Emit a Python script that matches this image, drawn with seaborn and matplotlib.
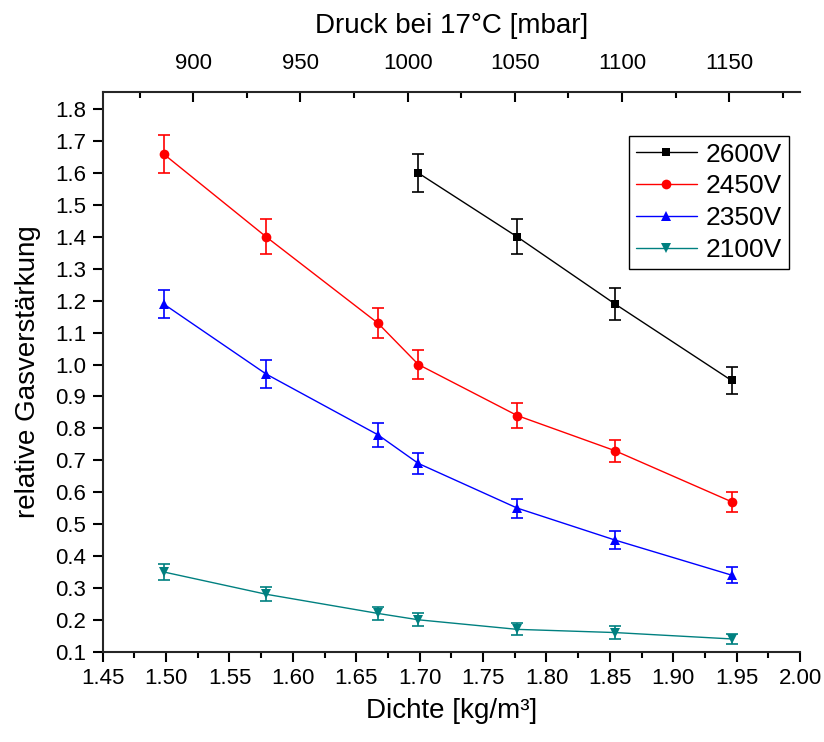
import matplotlib
matplotlib.use("Agg")
import matplotlib.pyplot as plt
from matplotlib.ticker import MultipleLocator, FixedLocator, FormatStrFormatter
import seaborn as sns

# Dichte der Messpunkte [kg/m^3]
dichte = [1.498, 1.579, 1.667, 1.699, 1.777, 1.854, 1.946]

# relative Gasverstaerkung und Fehler
g2600 = [1.60, 1.40, 1.19, 0.95]
e2600 = [0.060, 0.055, 0.049, 0.042]
g2450 = [1.66, 1.40, 1.13, 1.00, 0.84, 0.73, 0.57]
e2450 = [0.060, 0.055, 0.047, 0.044, 0.038, 0.035, 0.031]
g2350 = [1.19, 0.97, 0.78, 0.69, 0.55, 0.45, 0.34]
e2350 = [0.045, 0.043, 0.037, 0.034, 0.030, 0.027, 0.024]
g2100 = [0.35, 0.28, 0.22, 0.20, 0.17, 0.16, 0.14]
e2100 = [0.024, 0.022, 0.021, 0.020, 0.019, 0.019, 0.017]

labels = ["2600V", "2450V", "2350V", "2100V"]
druck_ticks = [900, 950, 1000, 1050, 1100, 1150]

# Umrechnung Druck (mbar, 17 C) -> Dichte
k = 0.0016905

sns.set_theme(style="ticks")
plt.rcParams["font.family"] = ["Liberation Sans", "DejaVu Sans"]
plt.rcParams["text.color"] = "black"
plt.rcParams["axes.labelcolor"] = "black"
plt.rcParams["xtick.color"] = "black"
plt.rcParams["ytick.color"] = "black"

fig = plt.figure(figsize=(8.24, 7.42), dpi=100)
ax = fig.add_axes([0.1246, 0.1217, 0.8463, 0.7547])

series = [
    (labels[0], dichte[3:], g2600, e2600, "black", "s", 6),
    (labels[1], dichte, g2450, e2450, "#ff0000", "o", 7),
    (labels[2], dichte, g2350, e2350, "#0000ff", "^", 7.5),
    (labels[3], dichte, g2100, e2100, "#008080", "v", 7.5),
]

for name, xs, ys, es, c, m, ms in series:
    sns.lineplot(x=xs, y=ys, color=c, marker=m, markersize=ms, markeredgewidth=0,
                 linewidth=1, label=name, ax=ax)
    ax.errorbar(xs, ys, yerr=es, fmt="none", ecolor=c, elinewidth=1.2,
                capsize=4, capthick=1.2)

ax.set_xlim(1.45, 2.00)
ax.set_ylim(0.1, 1.855)
ax.xaxis.set_major_locator(MultipleLocator(0.05))
ax.xaxis.set_minor_locator(MultipleLocator(0.025))
ax.xaxis.set_major_formatter(FormatStrFormatter("%.2f"))
ax.yaxis.set_major_locator(MultipleLocator(0.1))
ax.yaxis.set_major_formatter(FormatStrFormatter("%.1f"))

ax.spines["top"].set_visible(False)
ax.spines["right"].set_visible(False)
ax.spines["left"].set_linewidth(1.5)
ax.spines["bottom"].set_linewidth(1.5)
ax.tick_params(axis="both", which="major", direction="out", length=7, width=1.5,
               labelsize=16)
ax.tick_params(axis="x", which="major", pad=5)
ax.tick_params(axis="y", which="major", pad=5)
ax.tick_params(axis="x", which="minor", direction="out", length=4, width=1.5)

ax.set_xlabel("Dichte [kg/m³]", fontsize=20)
ax.xaxis.set_label_coords(0.5, -0.083)
ax.set_ylabel("relative Gasverstärkung", fontsize=20)
ax.yaxis.set_label_coords(-0.088, 0.5)

sec = ax.secondary_xaxis("top", functions=(lambda d: d / k, lambda p: p * k))
sec.xaxis.set_major_locator(FixedLocator(druck_ticks))
sec.xaxis.set_minor_locator(MultipleLocator(25))
sec.spines["top"].set_linewidth(1.5)
sec.tick_params(axis="x", which="major", direction="in", length=7, width=1.5,
                labelsize=16, pad=13)
sec.tick_params(axis="x", which="minor", direction="in", length=4, width=1.5)
sec.set_xlabel("Druck bei 17°C [mbar]", fontsize=20, labelpad=14)

leg = ax.legend(loc="upper right", bbox_to_anchor=(0.984, 0.921), fontsize=19,
                frameon=True, fancybox=False, edgecolor="black", framealpha=1,
                handlelength=2.3, handletextpad=0.35, labelspacing=0.3,
                borderpad=0.25, borderaxespad=0)
leg.get_frame().set_linewidth(1)

fig.savefig("out.png", dpi=100)
